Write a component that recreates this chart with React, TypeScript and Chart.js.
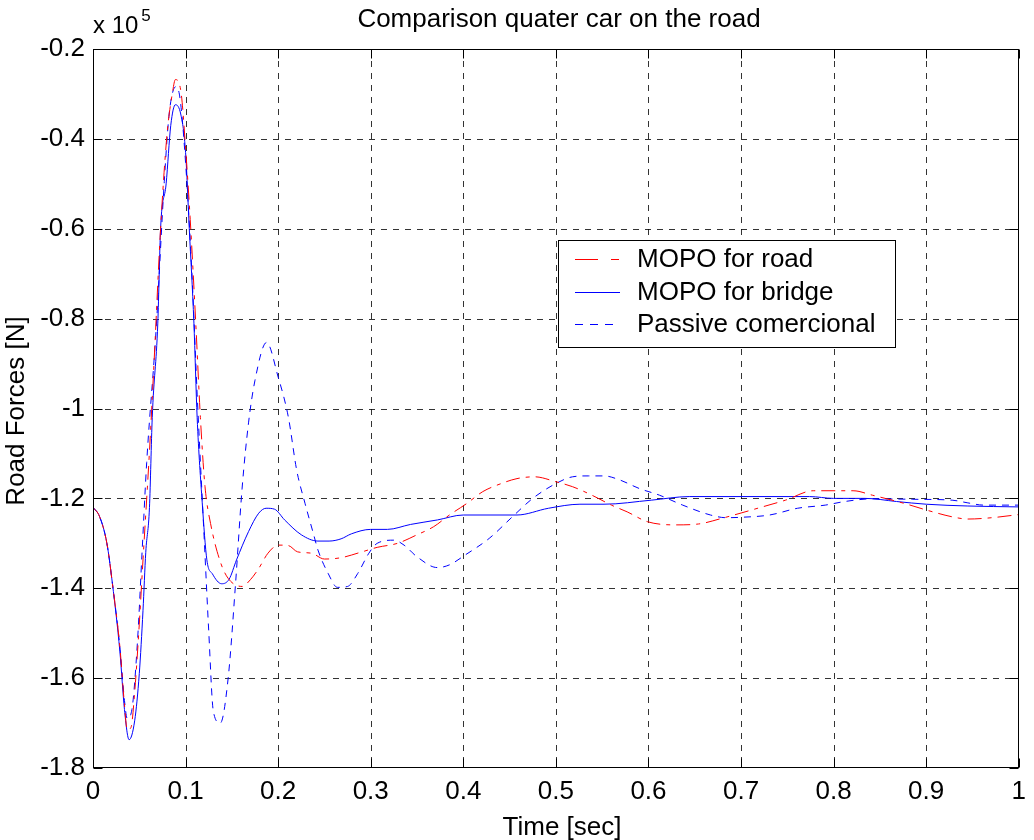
import React, { useEffect, useRef } from 'react';
import { Chart, registerables } from 'chart.js';

Chart.register(...registerables);

// ---- data (values in units of 1e5 N) ----
const roadT = [0, 0.007, 0.015, 0.021, 0.029, 0.034, 0.037, 0.041, 0.045, 0.05, 0.054, 0.061, 0.066, 0.073, 0.08, 0.086, 0.089, 0.095, 0.1, 0.105, 0.111, 0.116, 0.121, 0.127, 0.1375, 0.146, 0.161, 0.17, 0.179, 0.189, 0.2, 0.211, 0.221, 0.236, 0.25, 0.268, 0.289, 0.307, 0.329, 0.35, 0.368, 0.385, 0.404, 0.421, 0.441, 0.458, 0.477, 0.5, 0.518, 0.539, 0.56, 0.577, 0.599, 0.629, 0.654, 0.68, 0.701, 0.723, 0.748, 0.778, 0.821, 0.842, 0.876, 0.902, 0.928, 0.945, 0.971, 1.0];
const roadV = [-1.22, -1.24, -1.3, -1.39, -1.53, -1.66, -1.715, -1.71, -1.632, -1.48, -1.337, -1.095, -0.895, -0.6, -0.389, -0.295, -0.268, -0.295, -0.42, -0.579, -0.81, -1.02, -1.174, -1.256, -1.341, -1.378, -1.396, -1.381, -1.356, -1.322, -1.304, -1.305, -1.319, -1.322, -1.335, -1.332, -1.32, -1.309, -1.3, -1.281, -1.263, -1.237, -1.211, -1.185, -1.167, -1.156, -1.152, -1.163, -1.174, -1.193, -1.215, -1.23, -1.252, -1.259, -1.257, -1.244, -1.232, -1.219, -1.204, -1.183, -1.183, -1.193, -1.211, -1.227, -1.241, -1.246, -1.243, -1.236];

const bridgeT = [0, 0.007, 0.015, 0.021, 0.029, 0.034, 0.039, 0.045, 0.05, 0.054, 0.057, 0.061, 0.064, 0.07, 0.073, 0.079, 0.084, 0.089, 0.095, 0.1, 0.104, 0.109, 0.1125, 0.118, 0.123, 0.129, 0.139, 0.147, 0.155, 0.168, 0.179, 0.187, 0.196, 0.207, 0.225, 0.243, 0.255, 0.268, 0.279, 0.3, 0.318, 0.343, 0.372, 0.4, 0.458, 0.492, 0.526, 0.552, 0.603, 0.644, 0.774, 0.8, 0.834, 0.868, 0.9, 0.945, 1.0];
const bridgeV = [-1.22, -1.24, -1.3, -1.39, -1.54, -1.67, -1.737, -1.695, -1.59, -1.45, -1.32, -1.22, -1.02, -0.81, -0.6, -0.5, -0.37, -0.324, -0.347, -0.43, -0.6, -0.81, -1.02, -1.21, -1.337, -1.368, -1.39, -1.38, -1.337, -1.274, -1.233, -1.222, -1.224, -1.248, -1.281, -1.295, -1.295, -1.29, -1.279, -1.269, -1.269, -1.258, -1.248, -1.237, -1.237, -1.222, -1.213, -1.213, -1.204, -1.196, -1.196, -1.2, -1.2, -1.207, -1.213, -1.217, -1.219];

const passiveT = [0, 0.007, 0.015, 0.021, 0.029, 0.034, 0.037, 0.042, 0.048, 0.053, 0.058, 0.068, 0.077, 0.082, 0.087, 0.09, 0.094, 0.1, 0.107, 0.1125, 0.12, 0.125, 0.13, 0.1375, 0.146, 0.154, 0.161, 0.168, 0.175, 0.1875, 0.2, 0.211, 0.22, 0.229, 0.238, 0.243, 0.254, 0.264, 0.275, 0.286, 0.298, 0.307, 0.325, 0.336, 0.35, 0.372, 0.385, 0.402, 0.428, 0.453, 0.475, 0.5, 0.518, 0.535, 0.552, 0.569, 0.59, 0.612, 0.637, 0.667, 0.684, 0.701, 0.731, 0.761, 0.791, 0.812, 0.842, 0.885, 0.928, 0.945, 0.962, 1.0];
const passiveV = [-1.22, -1.24, -1.3, -1.39, -1.53, -1.65, -1.69, -1.67, -1.52, -1.32, -1.12, -0.83, -0.495, -0.35, -0.29, -0.284, -0.31, -0.453, -0.705, -0.968, -1.284, -1.495, -1.674, -1.7, -1.6, -1.389, -1.179, -1.032, -0.937, -0.853, -0.93, -1.019, -1.137, -1.211, -1.278, -1.315, -1.367, -1.398, -1.396, -1.367, -1.322, -1.3, -1.293, -1.304, -1.33, -1.354, -1.348, -1.326, -1.289, -1.241, -1.2, -1.167, -1.152, -1.15, -1.15, -1.159, -1.178, -1.193, -1.215, -1.237, -1.243, -1.242, -1.237, -1.222, -1.215, -1.207, -1.201, -1.202, -1.204, -1.21, -1.215, -1.215];

const seriesNames = ['MOPO for road', 'MOPO for bridge', 'Passive comercional'];
const xTicks = [0, 0.1, 0.2, 0.3, 0.4, 0.5, 0.6, 0.7, 0.8, 0.9, 1];
const yTicks = [-1.8, -1.6, -1.4, -1.2, -1, -0.8, -0.6, -0.4, -0.2];
const titleText = 'Comparison quater car on the road';
const xLabel = 'Time [sec]';
const yLabel = 'Road Forces [N]';
const expBase = 'x 10';
const expPower = '5';

const FONT = '"Liberation Sans", Arial, Helvetica, sans-serif';
const RED = '#ff0000';
const BLUE = '#0000ff';
const ROAD_DASH = [14, 6, 4, 6];
const PASSIVE_DASH = [7, 6];

const toPoints = (t: number[], v: number[]) => t.map((x, i) => ({ x, y: v[i] }));

const decorPlugin = {
  id: 'matlabDecor',
  beforeDatasetsDraw(chart: any) {
    const { ctx, chartArea: a, scales } = chart;
    const xs = scales.x;
    const ys = scales.y;
    ctx.save();
    ctx.strokeStyle = 'rgba(0,0,0,0.8)';
    ctx.lineWidth = 1;
    ctx.setLineDash([6, 6]);
    xTicks.slice(1, -1).forEach((t) => {
      const px = Math.round(xs.getPixelForValue(t)) + 0.5;
      ctx.beginPath();
      ctx.moveTo(px, a.top);
      ctx.lineTo(px, a.bottom);
      ctx.stroke();
    });
    yTicks.slice(1, -1).forEach((v) => {
      const py = Math.round(ys.getPixelForValue(v)) + 0.5;
      ctx.beginPath();
      ctx.moveTo(a.left, py);
      ctx.lineTo(a.right, py);
      ctx.stroke();
    });
    ctx.restore();
  },
  afterDatasetsDraw(chart: any) {
    const { ctx, chartArea: a, scales } = chart;
    const xs = scales.x;
    const ys = scales.y;
    ctx.save();
    // frame
    ctx.setLineDash([]);
    ctx.strokeStyle = '#000';
    ctx.lineWidth = 1;
    const L = Math.round(a.left) + 0.5;
    const R = Math.round(a.right) - 0.5;
    const T = Math.round(a.top) + 0.5;
    const B = Math.round(a.bottom) - 0.5;
    ctx.strokeRect(L, T, R - L, B - T);
    // inward ticks
    const tl = 9;
    ctx.beginPath();
    xTicks.forEach((t) => {
      const px = Math.round(xs.getPixelForValue(t)) + 0.5;
      ctx.moveTo(px, B);
      ctx.lineTo(px, B - tl);
      ctx.moveTo(px, T);
      ctx.lineTo(px, T + tl);
    });
    yTicks.forEach((v) => {
      const py = Math.round(ys.getPixelForValue(v)) + 0.5;
      ctx.moveTo(L, py);
      ctx.lineTo(L + tl, py);
      ctx.moveTo(R, py);
      ctx.lineTo(R - tl, py);
    });
    ctx.stroke();

    // legend
    const lx = 558.5, ly = 240.5, lw = 337, lh = 107;
    ctx.fillStyle = '#fff';
    ctx.fillRect(lx, ly, lw, lh);
    ctx.strokeStyle = '#000';
    ctx.strokeRect(lx, ly, lw, lh);
    const rows = [259.5, 292.5, 324.5];
    const baselines = [267, 300, 332];
    ctx.font = `26px ${FONT}`;
    ctx.textBaseline = 'alphabetic';
    ctx.textAlign = 'left';
    const styles = [
      { color: RED, dash: [23, 13, 8, 100] },
      { color: BLUE, dash: [] as number[] },
      { color: BLUE, dash: [8, 7] },
    ];
    seriesNames.forEach((name, i) => {
      ctx.strokeStyle = styles[i].color;
      ctx.setLineDash(styles[i].dash);
      ctx.beginPath();
      ctx.moveTo(575, rows[i]);
      ctx.lineTo(620, rows[i]);
      ctx.stroke();
      ctx.fillStyle = '#000';
      ctx.fillText(name, 637, baselines[i]);
    });
    ctx.setLineDash([]);

    // title
    ctx.fillStyle = '#000';
    ctx.textAlign = 'center';
    ctx.font = `26px ${FONT}`;
    ctx.fillText(titleText, 559, 27);
    // x label
    ctx.fillText(xLabel, 562, 835);
    // y label
    ctx.save();
    ctx.translate(24, 411);
    ctx.rotate(-Math.PI / 2);
    ctx.fillText(yLabel, 0, 0);
    ctx.restore();
    // exponent
    ctx.textAlign = 'left';
    ctx.font = `24px ${FONT}`;
    ctx.fillText(expBase, 93, 33);
    const w = ctx.measureText(expBase).width;
    ctx.font = `17px ${FONT}`;
    ctx.fillText(expPower, 93 + w + 3, 21);
    ctx.restore();
  },
};

const fmt = (v: number) => String(Number(Number(v).toFixed(1)));

export default function App() {
  const ref = useRef<HTMLCanvasElement | null>(null);
  useEffect(() => {
    if (!ref.current) return;
    const chart = new Chart(ref.current, {
      type: 'line',
      data: {
        datasets: [
          {
            label: seriesNames[0],
            data: toPoints(roadT, roadV),
            borderColor: RED,
            borderWidth: 1,
            borderDash: ROAD_DASH,
            pointRadius: 0,
            fill: false,
            cubicInterpolationMode: 'monotone',
          },
          {
            label: seriesNames[1],
            data: toPoints(bridgeT, bridgeV),
            borderColor: BLUE,
            borderWidth: 1,
            pointRadius: 0,
            fill: false,
            cubicInterpolationMode: 'monotone',
          },
          {
            label: seriesNames[2],
            data: toPoints(passiveT, passiveV),
            borderColor: BLUE,
            borderWidth: 1,
            borderDash: PASSIVE_DASH,
            pointRadius: 0,
            fill: false,
            cubicInterpolationMode: 'monotone',
          },
        ],
      },
      options: {
        animation: false,
        responsive: false,
        devicePixelRatio: 1,
        layout: { padding: { left: 0, right: 4, top: 49, bottom: 0 } },
        plugins: {
          legend: { display: false },
          title: { display: false },
          tooltip: { enabled: false },
        },
        events: [],
        scales: {
          x: {
            type: 'linear',
            min: 0,
            max: 1,
            afterFit: (s: any) => { s.height = 72; },
            afterBuildTicks: (s: any) => { s.ticks = xTicks.map((v) => ({ value: v })); },
            grid: { display: false, drawTicks: false },
            border: { display: false },
            ticks: {
              callback: (v: any) => fmt(v),
              font: { family: FONT, size: 26 },
              color: '#000',
              padding: 8,
              maxRotation: 0,
              autoSkip: false,
            },
          },
          y: {
            type: 'linear',
            min: -1.8,
            max: -0.2,
            afterFit: (s: any) => { s.width = 93; },
            afterBuildTicks: (s: any) => { s.ticks = yTicks.map((v) => ({ value: v })); },
            grid: { display: false, drawTicks: false },
            border: { display: false },
            ticks: {
              callback: (v: any) => fmt(v),
              font: { family: FONT, size: 26 },
              color: '#000',
              padding: 8,
              autoSkip: false,
            },
          },
        },
      },
      plugins: [decorPlugin],
    } as any);
    return () => chart.destroy();
  }, []);
  return (
    <div style={{ position: 'absolute', left: 0, top: 0, width: 1034, height: 840, background: '#fff' }}>
      <canvas ref={ref} width={1034} height={840} style={{ display: 'block' }} />
    </div>
  );
}
